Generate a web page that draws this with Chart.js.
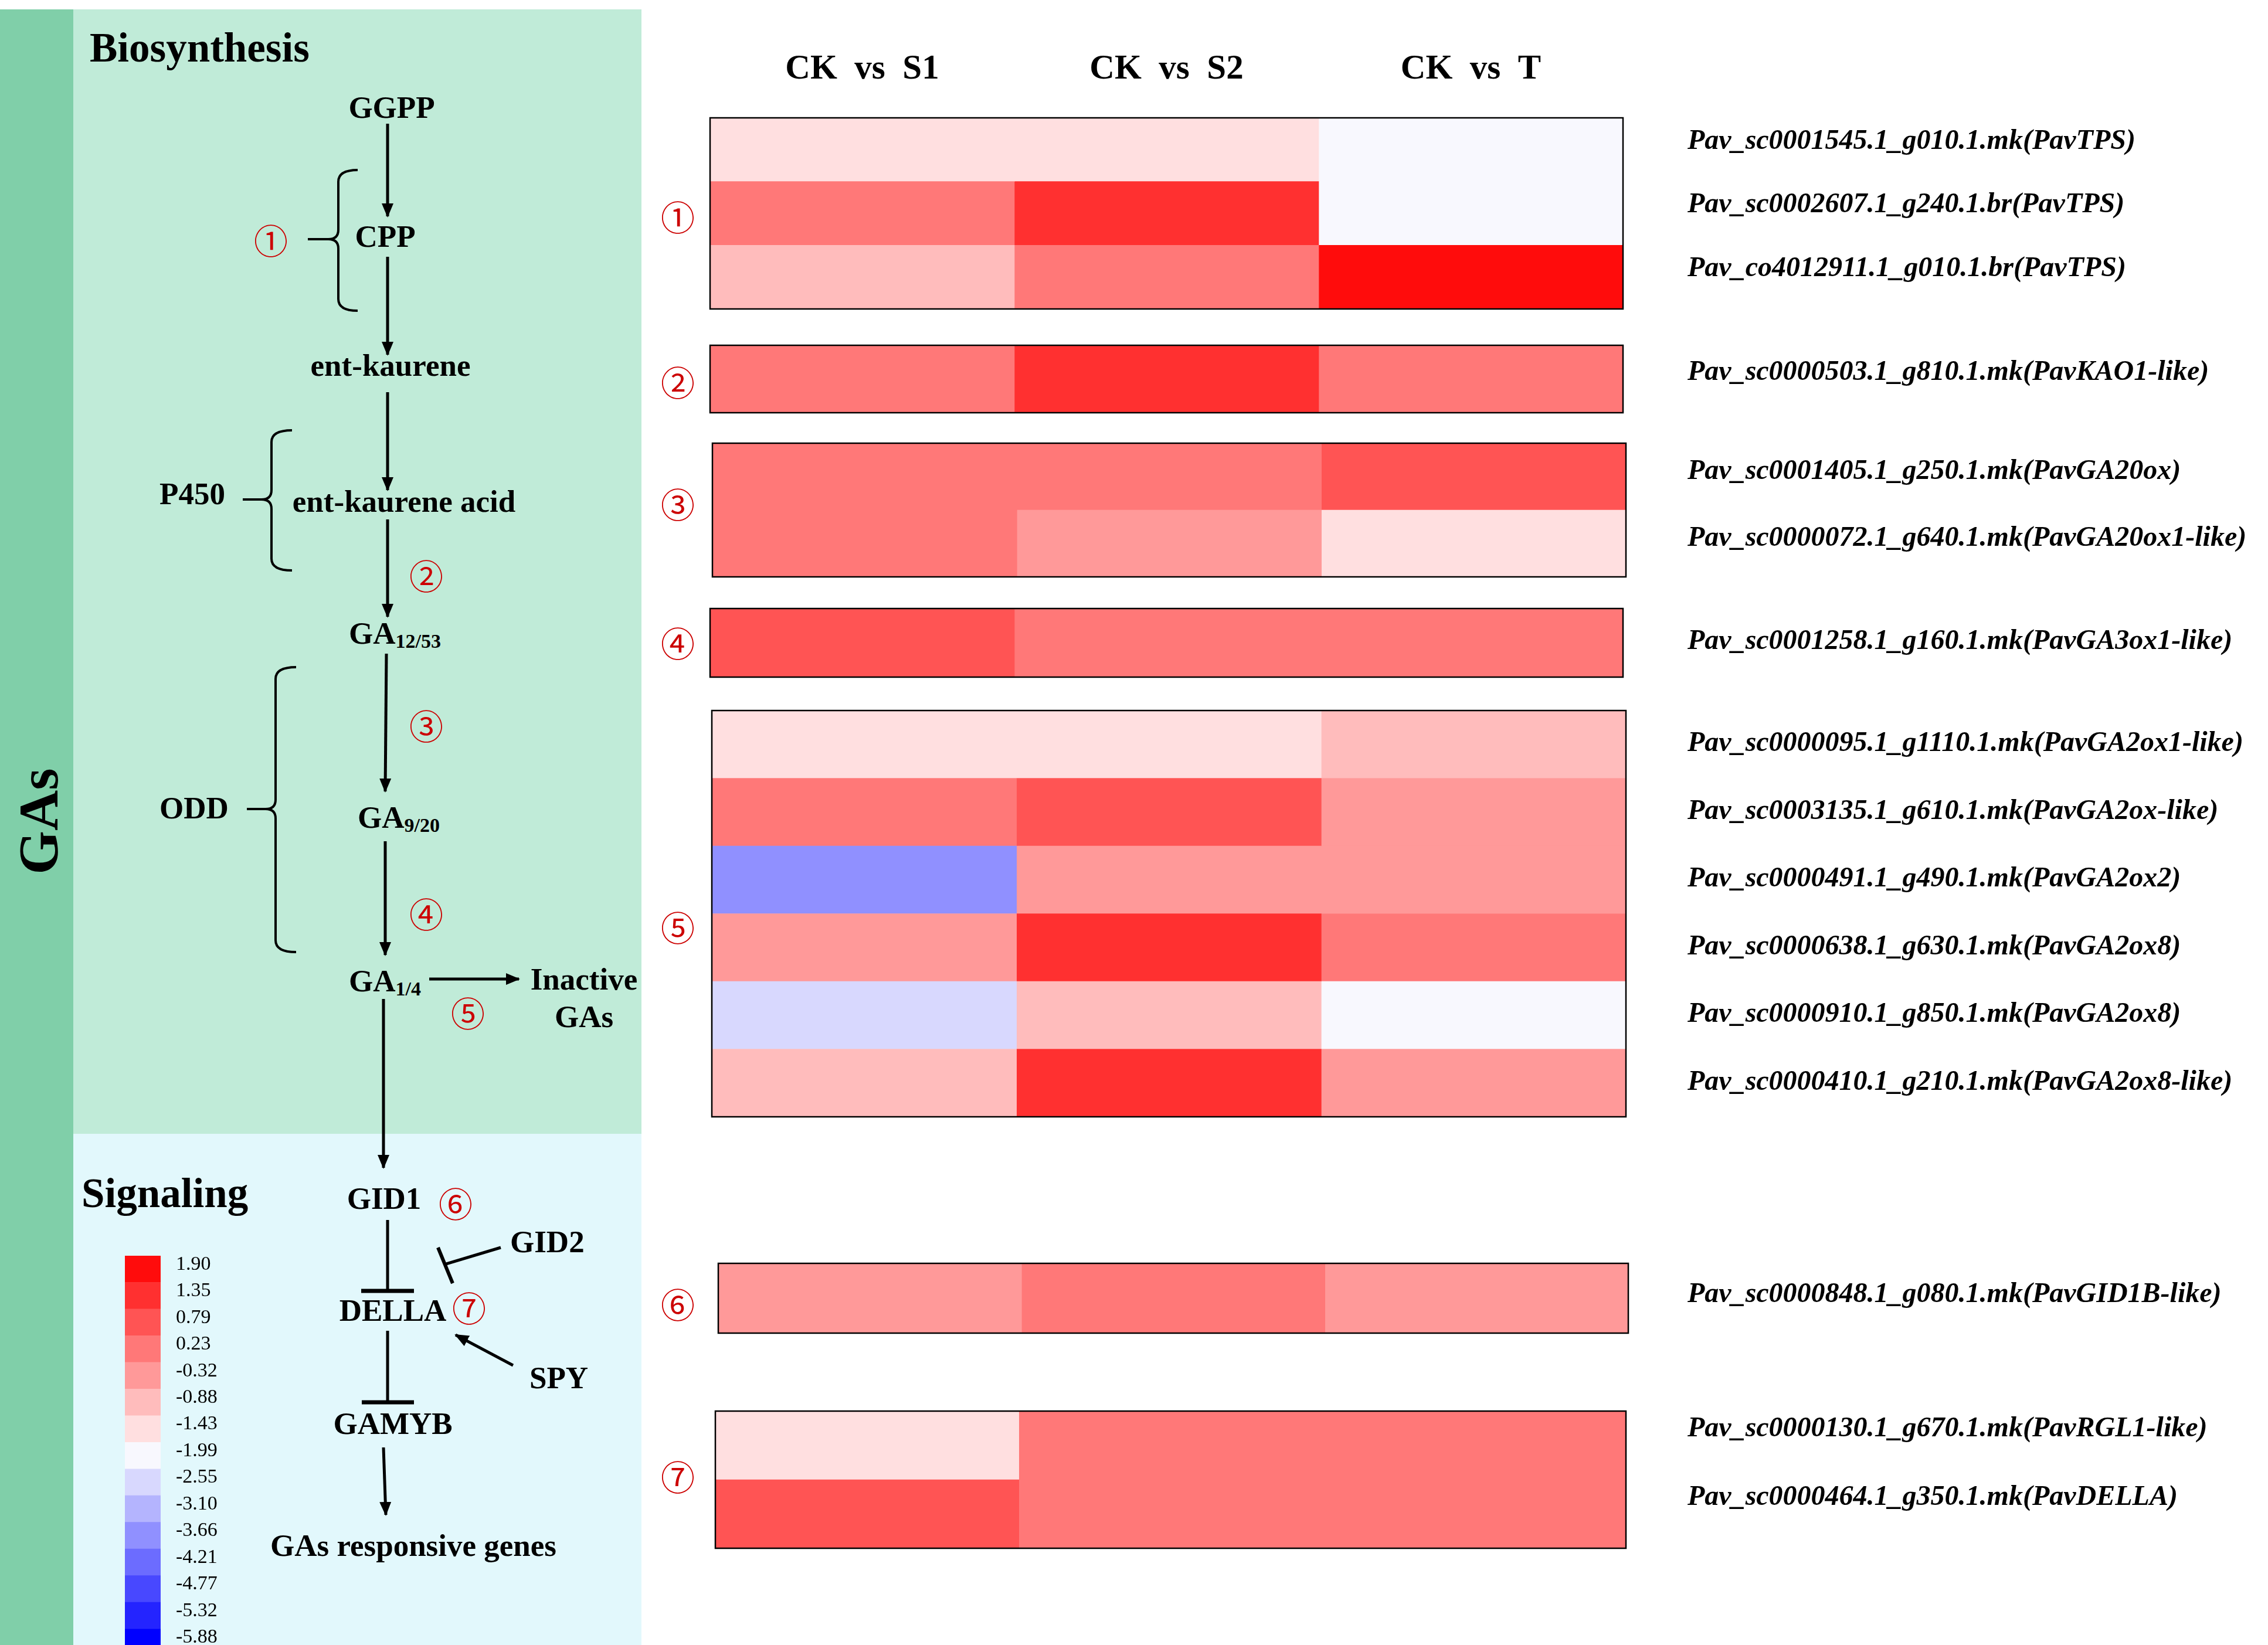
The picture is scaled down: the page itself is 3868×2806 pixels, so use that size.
<!DOCTYPE html>
<html>
<head>
<meta charset="utf-8">
<script src="https://cdn.jsdelivr.net/npm/chart.js@4.4.1/dist/chart.umd.min.js"></script>
<style>
body { margin: 0; width: 3868px; height: 2806px; overflow: hidden; background: #fff; position: relative; }
svg { position: absolute; left: 0; top: 0; }
canvas { position: absolute; }
.t { font-family: 'Liberation Serif', serif; font-weight: bold; fill: #000; }
.n { font-family: 'Noto Sans CJK SC', sans-serif; fill: #cc0000; }
</style>
</head>
<body>
<svg width="3868" height="2806" viewBox="0 0 3868 2806">
  <defs>
    <marker id="ah" markerWidth="24" markerHeight="20" refX="22" refY="10" orient="auto" markerUnits="userSpaceOnUse">
      <path d="M0,0 L24,10 L0,20 z" fill="#000"/>
    </marker>
  </defs>
  <!-- panels -->
  <rect x="0" y="16" width="125" height="2790" fill="#80cfa9"/>
  <rect x="125" y="16" width="969" height="1918" fill="#c0ebd8"/>
  <rect x="125" y="1934" width="969" height="872" fill="#e2f8fc"/>
  <text class="t" font-size="96" transform="translate(98,1401) rotate(-90)" text-anchor="middle">GAs</text>

  <text class="t" x="153" y="105" font-size="71">Biosynthesis</text>
  <text class="t" x="139" y="2059" font-size="71">Signaling</text>

  <!-- pathway nodes -->
  <g class="t" font-size="53" text-anchor="middle">
    <text class="t" x="668" y="201">GGPP</text>
    <text class="t" x="657" y="421">CPP</text>
    <text class="t" x="666" y="641">ent-kaurene</text>
    <text class="t" x="689" y="873">ent-kaurene acid</text>
    <text class="t" x="328" y="860">P450</text>
    <text class="t" x="331" y="1396">ODD</text>
    <text class="t" x="996" y="1688">Inactive</text>
    <text class="t" x="996" y="1752">GAs</text>
    <text class="t" x="655" y="2062">GID1</text>
    <text class="t" x="670" y="2253">DELLA</text>
    <text class="t" x="670" y="2446">GAMYB</text>
    <text class="t" x="705" y="2654">GAs responsive genes</text>
  </g>
  <text class="t" x="595" y="1098" font-size="53">GA<tspan font-size="34" dy="7">12/53</tspan></text>
  <text class="t" x="610" y="1412" font-size="53">GA<tspan font-size="34" dy="7">9/20</tspan></text>
  <text class="t" x="595" y="1691" font-size="53">GA<tspan font-size="34" dy="7">1/4</tspan></text>
  <text class="t" x="870" y="2136" font-size="53">GID2</text>
  <text class="t" x="903" y="2368" font-size="53">SPY</text>

  <!-- arrows -->
  <g stroke="#000" stroke-width="5" fill="none">
    <line x1="661" y1="211" x2="661" y2="369" marker-end="url(#ah)"/>
    <line x1="661" y1="438" x2="661" y2="605" marker-end="url(#ah)"/>
    <line x1="661" y1="669" x2="661" y2="836" marker-end="url(#ah)"/>
    <line x1="661" y1="886" x2="661" y2="1052" marker-end="url(#ah)"/>
    <line x1="659" y1="1115" x2="657" y2="1350" marker-end="url(#ah)"/>
    <line x1="657" y1="1435" x2="657" y2="1629" marker-end="url(#ah)"/>
    <line x1="732" y1="1670" x2="885" y2="1670" marker-end="url(#ah)"/>
    <line x1="654" y1="1704" x2="654" y2="1992" marker-end="url(#ah)"/>
    <line x1="875" y1="2329" x2="777" y2="2277" marker-end="url(#ah)"/>
    <line x1="654" y1="2469" x2="658" y2="2584" marker-end="url(#ah)"/>
    <!-- inhibitions -->
    <line x1="661" y1="2081" x2="661" y2="2202"/>
    <line x1="616" y1="2202" x2="706" y2="2202" stroke-width="7"/>
    <line x1="661" y1="2270" x2="661" y2="2392"/>
    <line x1="617" y1="2392" x2="706" y2="2392" stroke-width="7"/>
    <line x1="854" y1="2128" x2="761" y2="2156"/>
    <line x1="747" y1="2128" x2="772" y2="2189" stroke-width="6"/>
  </g>
  <!-- braces -->
  <g stroke="#000" stroke-width="4" fill="none">
    <path d="M610,290 Q577,290 577,310 L577,392 Q577,408 560,408 L525,408 M560,408 Q577,408 577,424 L577,510 Q577,530 610,530"/>
    <path d="M498,734 Q463,734 463,754 L463,836 Q463,852 446,852 L414,852 M446,852 Q463,852 463,868 L463,953 Q463,973 498,973"/>
    <path d="M505,1138 Q470,1138 470,1158 L470,1364 Q470,1380 453,1380 L421,1380 M453,1380 Q470,1380 470,1396 L470,1604 Q470,1624 505,1624"/>
  </g>
  <!-- circled step numbers -->
  <g class="n" font-size="58" text-anchor="middle" dominant-baseline="central">
    <text class="n" x="462" y="408">①</text>
    <text class="n" x="727" y="980">②</text>
    <text class="n" x="727" y="1236">③</text>
    <text class="n" x="727" y="1557">④</text>
    <text class="n" x="798" y="1726">⑤</text>
    <text class="n" x="777" y="2051">⑥</text>
    <text class="n" x="800" y="2229">⑦</text>
    <text class="n" x="1156" y="368">①</text>
    <text class="n" x="1156" y="650">②</text>
    <text class="n" x="1156" y="858">③</text>
    <text class="n" x="1156" y="1095">④</text>
    <text class="n" x="1156" y="1580">⑤</text>
    <text class="n" x="1156" y="2223">⑥</text>
    <text class="n" x="1156" y="2517">⑦</text>
  </g>
</svg>

<canvas id="legend"></canvas>
<canvas id="b1"></canvas>
<canvas id="b2"></canvas>
<canvas id="b3"></canvas>
<canvas id="b4"></canvas>
<canvas id="b5"></canvas>
<canvas id="b6"></canvas>
<canvas id="b7"></canvas>

<script>
// column headers
var comparisons = ['CK  vs  S1', 'CK  vs  S2', 'CK  vs  T'];

// colour key
var legendTicks = ['1.90', '1.35', '0.79', '0.23', '-0.32', '-0.88', '-1.43', '-1.99',
                   '-2.55', '-3.10', '-3.66', '-4.21', '-4.77', '-5.32', '-5.88'];
var legendColors = ['#ff0c0c', '#ff3030', '#ff5454', '#ff7878', '#ff9999', '#ffbcbc', '#ffdfe0', '#f8f8fe',
                    '#d8d8fe', '#b4b4fe', '#9090ff', '#6c6cff', '#4848ff', '#2424ff', '#0000ff'];

// step 1
var tpsGenes = ['Pav_sc0001545.1_g010.1.mk(PavTPS)', 'Pav_sc0002607.1_g240.1.br(PavTPS)', 'Pav_co4012911.1_g010.1.br(PavTPS)'];
var tpsValues = [[-1.45, -1.40, -2.00], [0.25, 1.32, -1.98], [-0.90, 0.20, 1.90]];
// step 2
var kaoGenes = ['Pav_sc0000503.1_g810.1.mk(PavKAO1-like)'];
var kaoValues = [[0.22, 1.36, 0.25]];
// step 3
var ga20Genes = ['Pav_sc0001405.1_g250.1.mk(PavGA20ox)', 'Pav_sc0000072.1_g640.1.mk(PavGA20ox1-like)'];
var ga20Values = [[0.24, 0.21, 0.80], [0.20, -0.30, -1.45]];
// step 4
var ga3Genes = ['Pav_sc0001258.1_g160.1.mk(PavGA3ox1-like)'];
var ga3Values = [[0.78, 0.24, 0.22]];
// step 5
var ga2Genes = ['Pav_sc0000095.1_g1110.1.mk(PavGA2ox1-like)', 'Pav_sc0003135.1_g610.1.mk(PavGA2ox-like)',
                'Pav_sc0000491.1_g490.1.mk(PavGA2ox2)', 'Pav_sc0000638.1_g630.1.mk(PavGA2ox8)',
                'Pav_sc0000910.1_g850.1.mk(PavGA2ox8)', 'Pav_sc0000410.1_g210.1.mk(PavGA2ox8-like)'];
var ga2Values = [[-1.42, -1.44, -0.86], [0.26, 0.81, -0.30], [-3.65, -0.33, -0.31],
                 [-0.34, 1.36, 0.22], [-2.56, -0.90, -2.00], [-0.87, 1.35, -0.34]];
// step 6
var gidGenes = ['Pav_sc0000848.1_g080.1.mk(PavGID1B-like)'];
var gidValues = [[-0.30, 0.25, -0.33]];
// step 7
var dellaGenes = ['Pav_sc0000130.1_g670.1.mk(PavRGL1-like)', 'Pav_sc0000464.1_g350.1.mk(PavDELLA)'];
var dellaValues = [[-1.40, 0.22, 0.24], [0.80, 0.23, 0.21]];

var SERIF = "'Liberation Serif', serif";

function colorOf(v) {
    var best = 0, d = 1e9;
    for (var i = 0; i < legendTicks.length; i++) {
        var dd = Math.abs(parseFloat(legendTicks[i]) - v);
        if (dd < d) { d = dd; best = i; }
    }
    return legendColors[best];
}

// tick padding is also added above/below a vertical axis, drop that
function noEdgePadding(s) {
    s.paddingTop = 0;
    s.paddingBottom = 0;
    s.paddingLeft = 0;
    s.paddingRight = 0;
}

var frame = {
    id: 'frame',
    afterDatasetsDraw: function(chart) {
        var a = chart.chartArea, ctx = chart.ctx;
        ctx.save();
        ctx.strokeStyle = '#000';
        ctx.lineWidth = 2.5;
        ctx.strokeRect(a.left, a.top, a.right - a.left, a.bottom - a.top);
        ctx.restore();
    }
};

function heatBlock(id, left, top, w, h, genes, vals, header, labelShift) {
    var cv = document.getElementById(id);
    var pad = 3;
    var head = header ? 160 : 0;
    var cw = 3868 - left + pad;
    var ch = h + 2 * pad + head;
    cv.width = cw;
    cv.height = ch;
    cv.style.left = (left - pad) + 'px';
    cv.style.top = (top - pad - head) + 'px';

    var sets = comparisons.map(function(c, j) {
        return {
            label: c,
            xAxisID: 'x',
            yAxisID: 'y',
            data: genes.map(function() { return 1; }),
            backgroundColor: vals.map(function(r) { return colorOf(r[j]); }),
            borderWidth: 0,
            categoryPercentage: 1,
            barPercentage: 1
        };
    });

    var scales = {
        x: { type: 'linear', min: 0, max: 3, stacked: true, display: false },
        y: {
            type: 'category', position: 'right', stacked: true,
            grid: { display: false, drawTicks: false },
            border: { display: false },
            ticks: {
                autoSkip: false, padding: 2878 - (left + w), labelOffset: labelShift, color: '#000',
                font: { family: SERIF, size: 48, style: 'italic', weight: 'bold' }
            },
            afterFit: function(s) { s.width = cw - pad - w; noEdgePadding(s); }
        }
    };
    if (header) {
        scales.top = {
            type: 'category', axis: 'x', position: 'top', labels: comparisons, offset: true,
            grid: { display: false, drawTicks: false },
            border: { display: false },
            ticks: { padding: 47, color: '#000', font: { family: SERIF, size: 59, weight: 'bold' } },
            afterFit: function(s) { s.height = head + pad; noEdgePadding(s); }
        };
    }

    new Chart(cv, {
        type: 'bar',
        data: { labels: genes, datasets: sets },
        options: {
            indexAxis: 'y',
            responsive: false,
            animation: false,
            layout: { padding: { left: pad, right: 0, top: header ? 0 : pad, bottom: pad } },
            plugins: { legend: { display: false }, tooltip: { enabled: false } },
            scales: scales
        },
        plugins: [frame]
    });
}

function legendChart() {
    var cv = document.getElementById('legend');
    cv.width = 250;
    cv.height = 700;
    cv.style.left = '200px';
    cv.style.top = '2130px';
    new Chart(cv, {
        type: 'bar',
        data: {
            labels: legendTicks,
            datasets: [{
                data: legendTicks.map(function() { return 1; }),
                backgroundColor: legendColors,
                borderWidth: 0,
                categoryPercentage: 1,
                barPercentage: 1
            }]
        },
        options: {
            indexAxis: 'y',
            responsive: false,
            animation: false,
            layout: { padding: { left: 13, top: 12, bottom: 6, right: 0 } },
            plugins: { legend: { display: false }, tooltip: { enabled: false } },
            scales: {
                x: { min: 0, max: 1, display: false },
                y: {
                    position: 'right',
                    grid: { display: false, drawTicks: false },
                    border: { display: false },
                    ticks: { autoSkip: false, padding: 26, labelOffset: -8, color: '#000', font: { family: SERIF, size: 34 } },
                    afterFit: function(s) { s.width = 250 - 13 - 61; noEdgePadding(s); }
                }
            }
        }
    });
}

window.onload = function() {
    legendChart();
    heatBlock('b1', 1211, 201, 1557, 326, tpsGenes, tpsValues, true, -14);
    heatBlock('b2', 1211, 589, 1557, 115, kaoGenes, kaoValues, false, -11);
    heatBlock('b3', 1215, 756, 1558, 228, ga20Genes, ga20Values, false, -8);
    heatBlock('b4', 1211, 1038, 1557, 117, ga3Genes, ga3Values, false, -2);
    heatBlock('b5', 1214, 1212, 1559, 693, ga2Genes, ga2Values, false, -1);
    heatBlock('b6', 1225, 2155, 1552, 119, gidGenes, gidValues, false, -6);
    heatBlock('b7', 1220, 2407, 1553, 234, dellaGenes, dellaValues, false, -28);
};
</script>
</body>
</html>
